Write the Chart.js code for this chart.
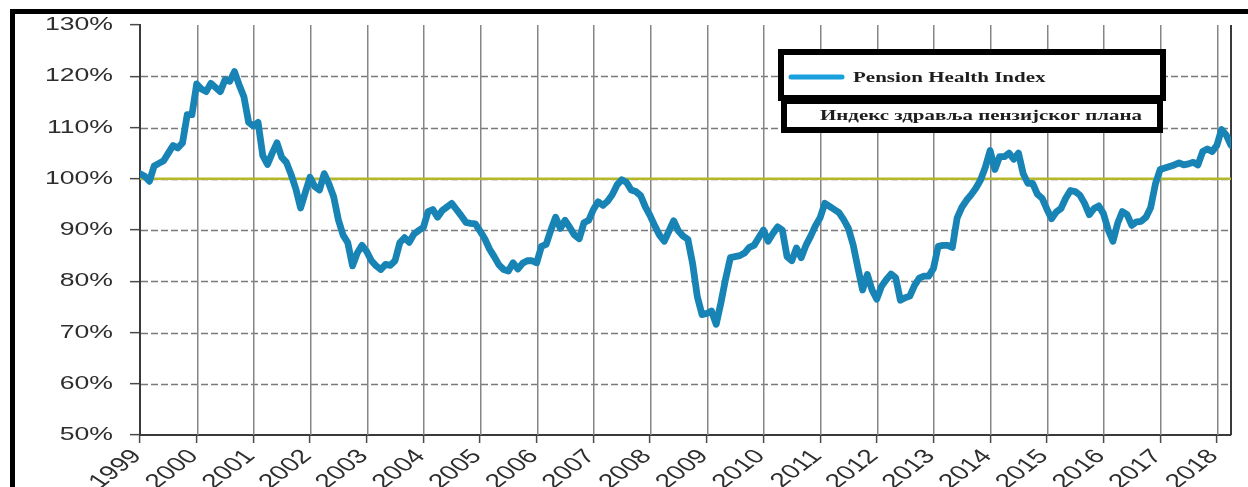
<!DOCTYPE html>
<html>
<head>
<meta charset="utf-8">
<script src="https://cdn.jsdelivr.net/npm/chart.js@4.4.1/dist/chart.umd.min.js"></script>
<style>
  html, body { margin: 0; padding: 0; background: #fff; overflow: hidden; }
  #wrap { width: 1248px; height: 487px; position: relative; }
</style>
</head>
<body>
<div id="wrap"><canvas id="c" width="1248" height="487"></canvas></div>
<script>
// Monthly funded-status index, January 1999 onwards (percent)
const firstYear = 1999;
const healthIndex = [
  101.0, 100.5, 99.5, 102.5, 103.0, 103.5, 105.0, 106.5, 106.0, 107.0, 112.5, 112.5, // 1999
  118.5, 117.5, 117.0, 118.6, 117.8, 117.0, 119.3, 119.0, 120.9, 118.3, 116.0, 111.0, // 2000
  110.3, 111.0, 104.5, 102.8, 105.0, 107.0, 104.2, 103.2, 100.8, 98.0, 94.3, 97.3,     // 2001
  100.3, 98.5, 97.8, 101.0, 99.0, 96.5, 92.0, 89.0, 87.5, 83.0, 85.5, 87.0,            // 2002
  85.8, 84.0, 83.0, 82.3, 83.3, 83.1, 84.0, 87.5, 88.5, 87.6, 89.2, 89.9,              // 2003
  90.5, 93.6, 94.0, 92.5, 93.8, 94.5, 95.2, 94.0, 92.8, 91.5, 91.3, 91.2,              // 2004
  89.8, 88.3, 86.3, 84.8, 83.2, 82.3, 82.0, 83.6, 82.4, 83.5, 84.0, 84.0,              // 2005
  83.6, 86.8, 87.2, 90.0, 92.5, 90.3, 91.9, 90.5, 89.0, 88.3, 91.4, 91.9,              // 2006
  94.0, 95.5, 94.8, 95.6, 96.9, 98.8, 99.8, 99.3, 97.8, 97.5, 96.7, 94.5,              // 2007
  92.8, 90.8, 89.0, 87.8, 89.8, 91.8, 89.8, 88.8, 88.2, 83.5, 77.0, 73.5,              // 2008
  73.7, 74.2, 71.6, 75.8, 80.5, 84.6, 84.8, 85.0, 85.5, 86.6, 87.0, 88.5,              // 2009
  90.0, 87.8, 89.3, 90.6, 90.0, 84.8, 84.0, 86.5, 84.6, 87.0, 88.8, 90.8,              // 2010
  92.4, 95.2, 94.6, 94.0, 93.4, 92.0, 90.3, 87.1, 82.6, 78.3, 81.3, 78.3,              // 2011
  76.5, 79.0, 80.3, 81.4, 80.7, 76.3, 76.8, 77.1, 79.2, 80.6, 81.0, 81.0,              // 2012
  82.5, 86.8, 87.0, 87.0, 86.6, 92.3, 94.4, 95.8, 96.9, 98.2, 99.8, 102.3,             // 2013
  105.5, 101.8, 104.3, 104.3, 105.0, 103.8, 105.0, 101.0, 99.1, 99.1, 97.0, 96.2,      // 2014
  94.1, 92.2, 93.5, 94.2, 96.2, 97.7, 97.5, 96.8, 95.2, 93.0, 94.2, 94.7,              // 2015
  93.2, 90.0, 87.8, 91.3, 93.6, 93.0, 90.9, 91.6, 91.7, 92.5, 94.4, 99.0,              // 2016
  101.8, 102.1, 102.4, 102.7, 103.1, 102.7, 102.9, 103.2, 102.7, 105.3, 105.8, 105.3,  // 2017
  106.5, 109.6, 108.5, 106.5                                                           // 2018
];
const yearTicks = [1999, 2000, 2001, 2002, 2003, 2004, 2005, 2006, 2007, 2008,
                   2009, 2010, 2011, 2012, 2013, 2014, 2015, 2016, 2017, 2018];
const percentTicks = [50, 60, 70, 80, 90, 100, 110, 120, 130];
const parLevel = 100;
const seriesLabel = 'Pension Health Index';
const seriesLabelSr = 'Индекс здравља пензијског плана';

const xMin = yearTicks[0];
const xMax = yearTicks[yearTicks.length - 1] + 0.25;
const yMin = percentTicks[0];
const yMax = percentTicks[percentTicks.length - 1];

const points = healthIndex.map((v, i) => ({ x: firstYear + i / 12, y: v }));
const parLine = [{ x: xMin, y: parLevel }, { x: xMax, y: parLevel }];

const LINE_BLUE = '#1884b6';
const LEGEND_BLUE = '#1aa0dc';
const OLIVE = '#b4b82a';
const STRETCH = 1.4;   // wide lettering used throughout the figure

function strokeLine(ctx, x1, y1, x2, y2) {
  ctx.beginPath();
  ctx.moveTo(x1, y1);
  ctx.lineTo(x2, y2);
  ctx.stroke();
}

const decorPlugin = {
  id: 'decor',
  beforeDatasetsDraw(chart) {
    const { ctx, chartArea: a } = chart;
    const xs = chart.scales.x, ys = chart.scales.y;
    ctx.save();
    // dashed horizontal grid
    ctx.strokeStyle = '#7a7a7a';
    ctx.lineWidth = 1.3;
    ctx.setLineDash([7, 3]);
    percentTicks.forEach(v => {
      if (v <= yMin || v >= yMax) return;
      const y = Math.round(ys.getPixelForValue(v)) + 0.5;
      strokeLine(ctx, a.left + 1, y, a.right, y);
    });
    ctx.setLineDash([]);
    // year rules, thin and solid
    ctx.fillStyle = '#858585';
    const top = Math.round(a.top);
    const h = Math.round(a.bottom) - top;
    yearTicks.forEach(v => {
      if (v <= xMin) return;
      const x = Math.round(xs.getPixelForValue(v));
      ctx.fillRect(x, top, 1.5, h);
    });
    // right-hand frame of the plot
    ctx.strokeStyle = '#3a3a3a';
    ctx.lineWidth = 2;
    strokeLine(ctx, a.right, a.top, a.right, a.bottom);
    ctx.restore();
  },
  afterDraw(chart) {
    const { ctx } = chart;
    const xs = chart.scales.x, ys = chart.scales.y;

    // y tick labels
    ctx.save();
    ctx.fillStyle = '#2e2e2e';
    ctx.font = '19px "Liberation Sans", Arial, sans-serif';
    ctx.textAlign = 'right';
    ctx.textBaseline = 'middle';
    percentTicks.forEach(v => {
      const y = ys.getPixelForValue(v);
      ctx.save();
      ctx.translate(113, y);
      ctx.scale(STRETCH, 1);
      ctx.fillText(v + '%', 0, 0);
      ctx.restore();
    });
    ctx.restore();

    // x tick labels (rotated)
    ctx.save();
    ctx.fillStyle = '#2e2e2e';
    ctx.font = '20px "Liberation Sans", Arial, sans-serif';
    ctx.textAlign = 'right';
    ctx.textBaseline = 'middle';
    yearTicks.forEach(v => {
      const x = xs.getPixelForValue(v);
      ctx.save();
      ctx.translate(x - 3, 453);
      ctx.scale(STRETCH, 1);
      ctx.rotate(-47 * Math.PI / 180);
      ctx.fillText(String(v), 0, 0);
      ctx.restore();
    });
    ctx.restore();

    // outer frame bars
    ctx.save();
    ctx.fillStyle = '#000';
    ctx.fillRect(10, 9, 1238, 5);
    ctx.fillRect(10, 9, 5, 478);
    ctx.restore();

    // legend boxes
    ctx.save();
    ctx.fillStyle = '#fff';
    ctx.fillRect(781, 52, 382, 46);
    ctx.fillRect(784, 101, 376, 29);
    ctx.strokeStyle = '#000';
    ctx.lineWidth = 6;
    ctx.strokeRect(781, 52, 382, 46);
    ctx.strokeRect(784, 101, 376, 29);

    ctx.strokeStyle = LEGEND_BLUE;
    ctx.lineWidth = 5;
    ctx.lineCap = 'round';
    strokeLine(ctx, 791, 77, 842, 77);

    ctx.fillStyle = '#1e1e1e';
    ctx.font = 'bold 15px "Liberation Serif", "Times New Roman", serif';
    ctx.textAlign = 'left';
    ctx.textBaseline = 'middle';
    ctx.save();
    ctx.translate(853, 78);
    ctx.scale(STRETCH, 1);
    ctx.fillText(seriesLabel, 0, 0);
    ctx.restore();

    const w2 = ctx.measureText(seriesLabelSr).width;
    ctx.save();
    ctx.translate(820, 116);
    ctx.scale(322 / w2, 1);
    ctx.fillText(seriesLabelSr, 0, 0);
    ctx.restore();
    ctx.restore();
  }
};

new Chart(document.getElementById('c'), {
  type: 'line',
  data: {
    datasets: [
      {
        label: seriesLabel,
        data: points,
        borderColor: LINE_BLUE,
        borderWidth: 6.8,
        borderJoinStyle: 'round',
        borderCapStyle: 'round',
        pointRadius: 0,
        tension: 0,
        order: 0
      },
      {
        label: 'par',
        data: parLine,
        borderColor: OLIVE,
        borderWidth: 2.5,
        pointRadius: 0,
        order: 1
      }
    ]
  },
  options: {
    responsive: false,
    animation: false,
    devicePixelRatio: 1,
    layout: { padding: { left: 0, right: 17, top: 25, bottom: 0 } },
    plugins: { legend: { display: false }, tooltip: { enabled: false } },
    scales: {
      x: {
        type: 'linear',
        min: xMin,
        max: xMax,
        afterFit(s) { s.height = 52; },
        afterBuildTicks(s) { s.ticks = yearTicks.map(v => ({ value: v })); },
        ticks: { display: false, includeBounds: false, stepSize: 1 },
        grid: {
          drawOnChartArea: false,
          color: '#4a4a4a',
          lineWidth: 1.2,
          tickLength: 8,
          tickColor: '#4a4a4a',
          tickWidth: 1.5
        },
        border: { display: true, color: '#3a3a3a', width: 2 }
      },
      y: {
        min: yMin,
        max: yMax,
        afterFit(s) { s.width = 140; },
        afterBuildTicks(s) { s.ticks = percentTicks.map(v => ({ value: v })); },
        ticks: { display: false },
        grid: {
          drawOnChartArea: false,
          color: '#4a4a4a',
          lineWidth: 1.3,
          tickLength: 10,
          tickColor: '#4a4a4a',
          tickWidth: 1.5
        },
        border: { display: true, color: '#3a3a3a', width: 2 }
      }
    }
  },
  plugins: [decorPlugin]
});
</script>
</body>
</html>
